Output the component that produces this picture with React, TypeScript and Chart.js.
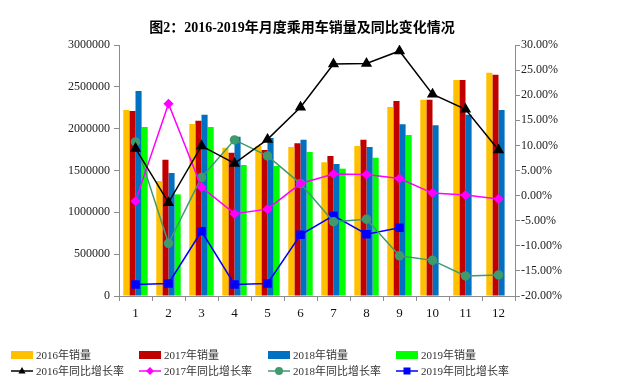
import React, { useEffect, useRef } from "react";
import { Chart, registerables } from "chart.js";

Chart.register(...registerables);

const titleText = "图2：2016-2019年月度乘用车销量及同比变化情况";
const months = ["1", "2", "3", "4", "5", "6", "7", "8", "9", "10", "11", "12"];

const sales2016 = [2223000, 1374000, 2056000, 1773000, 1793000, 1781000, 1598000, 1793000, 2259000, 2346000, 2582000, 2669000];
const sales2017 = [2211000, 1629000, 2095000, 1713000, 1745000, 1825000, 1673000, 1868000, 2331000, 2346000, 2582000, 2645000];
const sales2018 = [2450000, 1470000, 2167000, 1904000, 1888000, 1868000, 1578000, 1781000, 2052000, 2040000, 2167000, 2223000];
const sales2019 = [2020000, 1215000, 2020000, 1566000, 1554000, 1721000, 1522000, 1653000, 1924000, null, null, null];

const growth2016 = [9.4, -1.4, 9.9, 6.4, 11.2, 17.6, 26.2, 26.3, 28.8, 20.2, 17.2, 9.1];
const growth2017 = [-1.1, 18.3, 1.7, -3.6, -2.7, 2.4, 4.3, 4.2, 3.4, 0.5, 0.1, -0.7];
const growth2018 = [10.7, -9.5, 3.6, 11.1, 7.9, 2.4, -5.2, -4.7, -12.0, -12.9, -16.0, -15.8];
const growth2019 = [-17.7, -17.5, -7.1, -17.7, -17.5, -7.8, -4.0, -7.7, -6.4, null, null, null];

const barLabels = ["2016年销量", "2017年销量", "2018年销量", "2019年销量"];
const lineLabels = ["2016年同比增长率", "2017年同比增长率", "2018年同比增长率", "2019年同比增长率"];

const FONT = '"Liberation Serif", "Noto Sans CJK SC", serif';
const AXIS = "#8c8c8c";

function drawMarker(ctx: CanvasRenderingContext2D, style: string, x: number, y: number, r: number, color: string) {
  ctx.save();
  ctx.fillStyle = color;
  ctx.beginPath();
  if (style === "triangle") {
    ctx.moveTo(x, y - r);
    ctx.lineTo(x + r * 0.9, y + r * 0.6);
    ctx.lineTo(x - r * 0.9, y + r * 0.6);
    ctx.closePath();
  } else if (style === "rectRot") {
    ctx.moveTo(x, y - r);
    ctx.lineTo(x + r, y);
    ctx.lineTo(x, y + r);
    ctx.lineTo(x - r, y);
    ctx.closePath();
  } else if (style === "circle") {
    ctx.arc(x, y, r, 0, Math.PI * 2);
  } else {
    ctx.rect(x - r, y - r, 2 * r, 2 * r);
  }
  ctx.fill();
  ctx.restore();
}

const customPlugin = {
  id: "customTitleLegend",
  afterDraw(chart: any) {
    const ctx: CanvasRenderingContext2D = chart.ctx;
    ctx.save();
    ctx.fillStyle = "#000";
    ctx.font = "bold 14px " + FONT;
    ctx.textAlign = "center";
    ctx.textBaseline = "middle";
    ctx.fillText(titleText, 302, 28);

    ctx.font = "11px " + FONT;
    ctx.textAlign = "left";
    const ds = chart.data.datasets;
    const colX = [11, 139, 268, 396];
    const rowY = [355, 371];
    ds.forEach((d: any, i: number) => {
      const row = Math.floor(i / 4);
      const col = i % 4;
      const x = colX[col];
      const y = rowY[row];
      if (d.type === "line") {
        ctx.strokeStyle = d.borderColor;
        ctx.lineWidth = 1.5;
        ctx.beginPath();
        ctx.moveTo(x, y);
        ctx.lineTo(x + 22, y);
        ctx.stroke();
        drawMarker(ctx, d.pointStyle, x + 11, y, d.pointStyle === "rect" ? 3.5 : 4, d.borderColor);
      } else {
        ctx.fillStyle = d.backgroundColor;
        ctx.fillRect(x, y - 4, 22, 8);
      }
      ctx.fillStyle = "#333";
      ctx.fillText(d.label, x + 25, y + 1);
    });
    ctx.restore();
  },
};

export default function App() {
  const ref = useRef<HTMLCanvasElement>(null);
  useEffect(() => {
    document.body.style.margin = "0";
    const canvas = ref.current!;
    const lineBase = {
      type: "line" as const,
      yAxisID: "y1",
      borderWidth: 1.5,
      order: 0,
      spanGaps: false,
    };
    const chart = new Chart(canvas, {
      type: "bar",
      data: {
        labels: months,
        datasets: [
          { label: barLabels[0], data: sales2016, backgroundColor: "#FFC000", yAxisID: "y", order: 1 },
          { label: barLabels[1], data: sales2017, backgroundColor: "#C00000", yAxisID: "y", order: 1 },
          { label: barLabels[2], data: sales2018, backgroundColor: "#0070C0", yAxisID: "y", order: 1 },
          { label: barLabels[3], data: sales2019, backgroundColor: "#00FF00", yAxisID: "y", order: 1 },
          { ...lineBase, label: lineLabels[0], data: growth2016, borderColor: "#000000", backgroundColor: "#000000", pointStyle: "triangle", pointRadius: 5 },
          { ...lineBase, label: lineLabels[1], data: growth2017, borderColor: "#FF00FF", backgroundColor: "#FF00FF", pointStyle: "rectRot", pointRadius: 4 },
          { ...lineBase, label: lineLabels[2], data: growth2018, borderColor: "#3F9A6E", backgroundColor: "#3F9A6E", pointStyle: "circle", pointRadius: 4 },
          { ...lineBase, label: lineLabels[3], data: growth2019, borderColor: "#0000FF", backgroundColor: "#0000FF", pointStyle: "rect", pointRadius: 5 },
        ] as any,
      },
      options: {
        animation: false,
        responsive: false,
        devicePixelRatio: 1,
        datasets: { bar: { categoryPercentage: 0.74, barPercentage: 1.0 } },
        layout: { padding: { top: 45, left: 0, right: 0, bottom: 0 } },
        plugins: { legend: { display: false }, title: { display: false }, tooltip: { enabled: false } },
        scales: {
          x: {
            offset: true,
            grid: { display: true, drawOnChartArea: false, drawTicks: true, tickLength: 5, offset: true, color: AXIS },
            border: { color: AXIS, width: 1 },
            ticks: { color: "#111", font: { family: FONT, size: 13 }, padding: 5, maxRotation: 0 },
            afterFit: (s: any) => { s.height = 89; },
          },
          y: {
            position: "left",
            min: 0,
            max: 3000000,
            grid: { display: true, drawOnChartArea: false, drawTicks: true, tickLength: 5, color: AXIS },
            border: { color: AXIS, width: 1 },
            ticks: { stepSize: 500000, color: "#222", font: { family: FONT, size: 12 }, padding: 4, callback: (v: any) => String(v) },
            afterFit: (s: any) => { s.width = 119; },
          },
          y1: {
            position: "right",
            min: -20,
            max: 30,
            grid: { display: true, drawOnChartArea: false, drawTicks: true, tickLength: 5, color: AXIS },
            border: { color: AXIS, width: 1 },
            ticks: { stepSize: 5, color: "#222", font: { family: FONT, size: 12 }, padding: 1, callback: (v: any) => Number(v).toFixed(2) + "%" },
            afterFit: (s: any) => { s.width = 112; },
          },
        },
      } as any,
      plugins: [customPlugin],
    });
    return () => chart.destroy();
  }, []);
  return (
    <div style={{ width: 627, height: 385, background: "#fff" }}>
      <canvas ref={ref} width={627} height={385} style={{ width: 627, height: 385, display: "block" }} />
    </div>
  );
}
